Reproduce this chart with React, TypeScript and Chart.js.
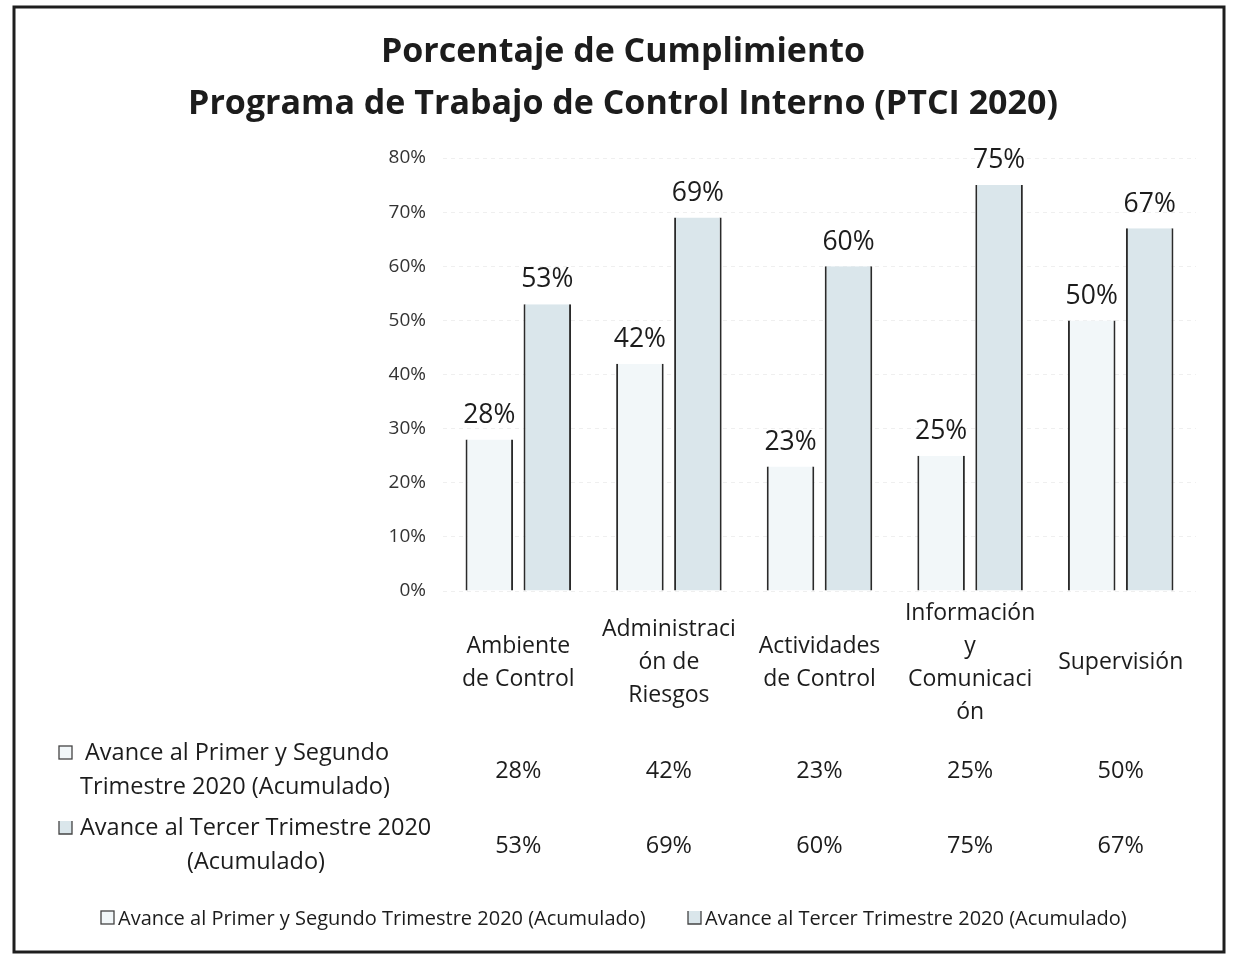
import React, { useEffect, useRef } from "react";
import { Chart, registerables } from "chart.js";

Chart.register(...registerables);

const titleLines = [
  "Porcentaje de Cumplimiento",
  "Programa de Trabajo de Control Interno (PTCI 2020)",
];
const categories = [
  ["Ambiente", "de Control"],
  ["Administraci", "ón de", "Riesgos"],
  ["Actividades", "de Control"],
  ["Información", "y", "Comunicaci", "ón"],
  ["Supervisión"],
];
const seriesNames = [
  "Avance al Primer y Segundo Trimestre 2020 (Acumulado)",
  "Avance al Tercer Trimestre 2020 (Acumulado)",
];
const tableRowLabels = [
  ["Avance al Primer y Segundo", "Trimestre 2020 (Acumulado)"],
  ["Avance al Tercer Trimestre 2020", "(Acumulado)"],
];
const firstSecondQuarter = [28, 42, 23, 25, 50];
const thirdQuarter = [53, 69, 60, 75, 67];
const yMax = 80;
const yStep = 10;

const FONT = "'Open Sans', 'Noto Sans', sans-serif";
const TEXT = "#1c1c1c";
const FILL1 = "#f2f7f9";
const FILL2 = "#dae6eb";
const EDGE = "#2a2a2a";

const extrasPlugin = {
  id: "extras",
  afterDatasetsDraw(chart: any) {
    const ctx = chart.ctx;
    ctx.save();
    ctx.fillStyle = TEXT;
    ctx.font = `26.5px ${FONT}`;
    ctx.textAlign = "center";
    ctx.textBaseline = "bottom";
    chart.data.datasets.forEach((ds: any, di: number) => {
      const meta = chart.getDatasetMeta(di);
      meta.data.forEach((el: any, i: number) => {
        ctx.fillText(`${ds.data[i]}%`, el.x, el.y - 11);
      });
    });
    ctx.restore();
  },
  afterDraw(chart: any) {
    const ctx = chart.ctx;
    const xs = chart.scales.x;
    ctx.save();
    // frame
    ctx.strokeStyle = "#1e1e1e";
    ctx.lineWidth = 3;
    ctx.strokeRect(14, 7, 1210, 945);

    // title
    ctx.fillStyle = TEXT;
    ctx.textAlign = "center";
    ctx.textBaseline = "middle";
    ctx.font = `bold 34px ${FONT}`;
    ctx.fillText(titleLines[0], 623, 52, 484);
    ctx.fillText(titleLines[1], 623, 104, 872);

    // data table values
    ctx.font = `23.5px ${FONT}`;
    const rowsY = [771, 846];
    [firstSecondQuarter, thirdQuarter].forEach((vals, r) => {
      vals.forEach((v, i) => {
        ctx.fillText(`${v}%`, xs.getPixelForValue(i), rowsY[r]);
      });
    });

    // table row labels with keys
    const drawKey = (x: number, y: number, fill: string, full: boolean) => {
      ctx.fillStyle = fill;
      ctx.fillRect(x, y, 13, 13);
      ctx.strokeStyle = "#444";
      ctx.lineWidth = 1.3;
      if (full) {
        ctx.strokeRect(x, y, 13, 13);
      } else {
        ctx.beginPath();
        ctx.moveTo(x, y);
        ctx.lineTo(x, y + 13);
        ctx.lineTo(x + 13, y + 13);
        ctx.lineTo(x + 13, y);
        ctx.stroke();
      }
      ctx.fillStyle = TEXT;
    };
    ctx.font = `23.5px ${FONT}`;
    drawKey(59, 746, FILL1, true);
    ctx.textAlign = "left";
    ctx.fillText(tableRowLabels[0][0], 85, 753, 305);
    ctx.textAlign = "center";
    ctx.fillText(tableRowLabels[0][1], 235, 787, 312);
    drawKey(59, 821, FILL2, false);
    ctx.textAlign = "left";
    ctx.fillText(tableRowLabels[1][0], 80, 828, 352);
    ctx.textAlign = "center";
    ctx.fillText(tableRowLabels[1][1], 256, 862);

    // legend
    ctx.font = `20px ${FONT}`;
    ctx.textAlign = "left";
    drawKey(101, 911, FILL1, true);
    ctx.fillText(seriesNames[0], 118, 919, 534);
    drawKey(688, 911, FILL2, false);
    ctx.fillText(seriesNames[1], 705, 919, 427);
    ctx.restore();
  },
};

export default function App() {
  const canvasRef = useRef<HTMLCanvasElement | null>(null);

  useEffect(() => {
    const canvas = canvasRef.current;
    if (!canvas) return;
    const chart = new Chart(canvas, {
      type: "bar",
      data: {
        labels: categories as any,
        datasets: [
          {
            label: seriesNames[0],
            data: firstSecondQuarter,
            backgroundColor: FILL1,
            borderColor: EDGE,
            borderWidth: { left: 2, right: 2, top: 0, bottom: 0 } as any,
            borderSkipped: false,
            categoryPercentage: 0.77,
            barPercentage: 0.82,
          },
          {
            label: seriesNames[1],
            data: thirdQuarter,
            backgroundColor: FILL2,
            borderColor: EDGE,
            borderWidth: { left: 2, right: 2, top: 0, bottom: 0 } as any,
            borderSkipped: false,
            categoryPercentage: 0.77,
            barPercentage: 0.82,
          },
        ],
      },
      options: {
        animation: false,
        responsive: false,
        layout: { padding: { top: 158, right: 37, left: 0, bottom: 0 } },
        plugins: {
          legend: { display: false },
          title: { display: false },
          tooltip: { enabled: false },
        },
        scales: {
          y: {
            min: 0,
            max: yMax,
            ticks: {
              stepSize: yStep,
              callback: (v: any) => `${v}%`,
              font: { family: FONT, size: 19 },
              color: "#333",
              padding: 17,
            },
            grid: { color: "#efefef", drawTicks: false },
            border: { display: false, dash: [4, 4] },
            afterFit: (s: any) => {
              s.width = 443;
            },
          },
          x: {
            ticks: {
              font: { family: FONT, size: 23, lineHeight: 1.435 },
              color: TEXT,
              padding: 22,
              maxRotation: 0,
              minRotation: 0,
              autoSkip: false,
              crossAlign: "center",
            },
            grid: { display: false, drawTicks: false },
            border: { display: false },
            afterFit: (s: any) => {
              s.height = 955 - 591;
            },
          },
        },
      },
      plugins: [extrasPlugin],
    });
    return () => chart.destroy();
  }, []);

  return (
    <div style={{ position: "fixed", left: 0, top: 0, width: 1233, height: 955, background: "#fff" }}>
      <canvas ref={canvasRef} width={1233} height={955} />
    </div>
  );
}
